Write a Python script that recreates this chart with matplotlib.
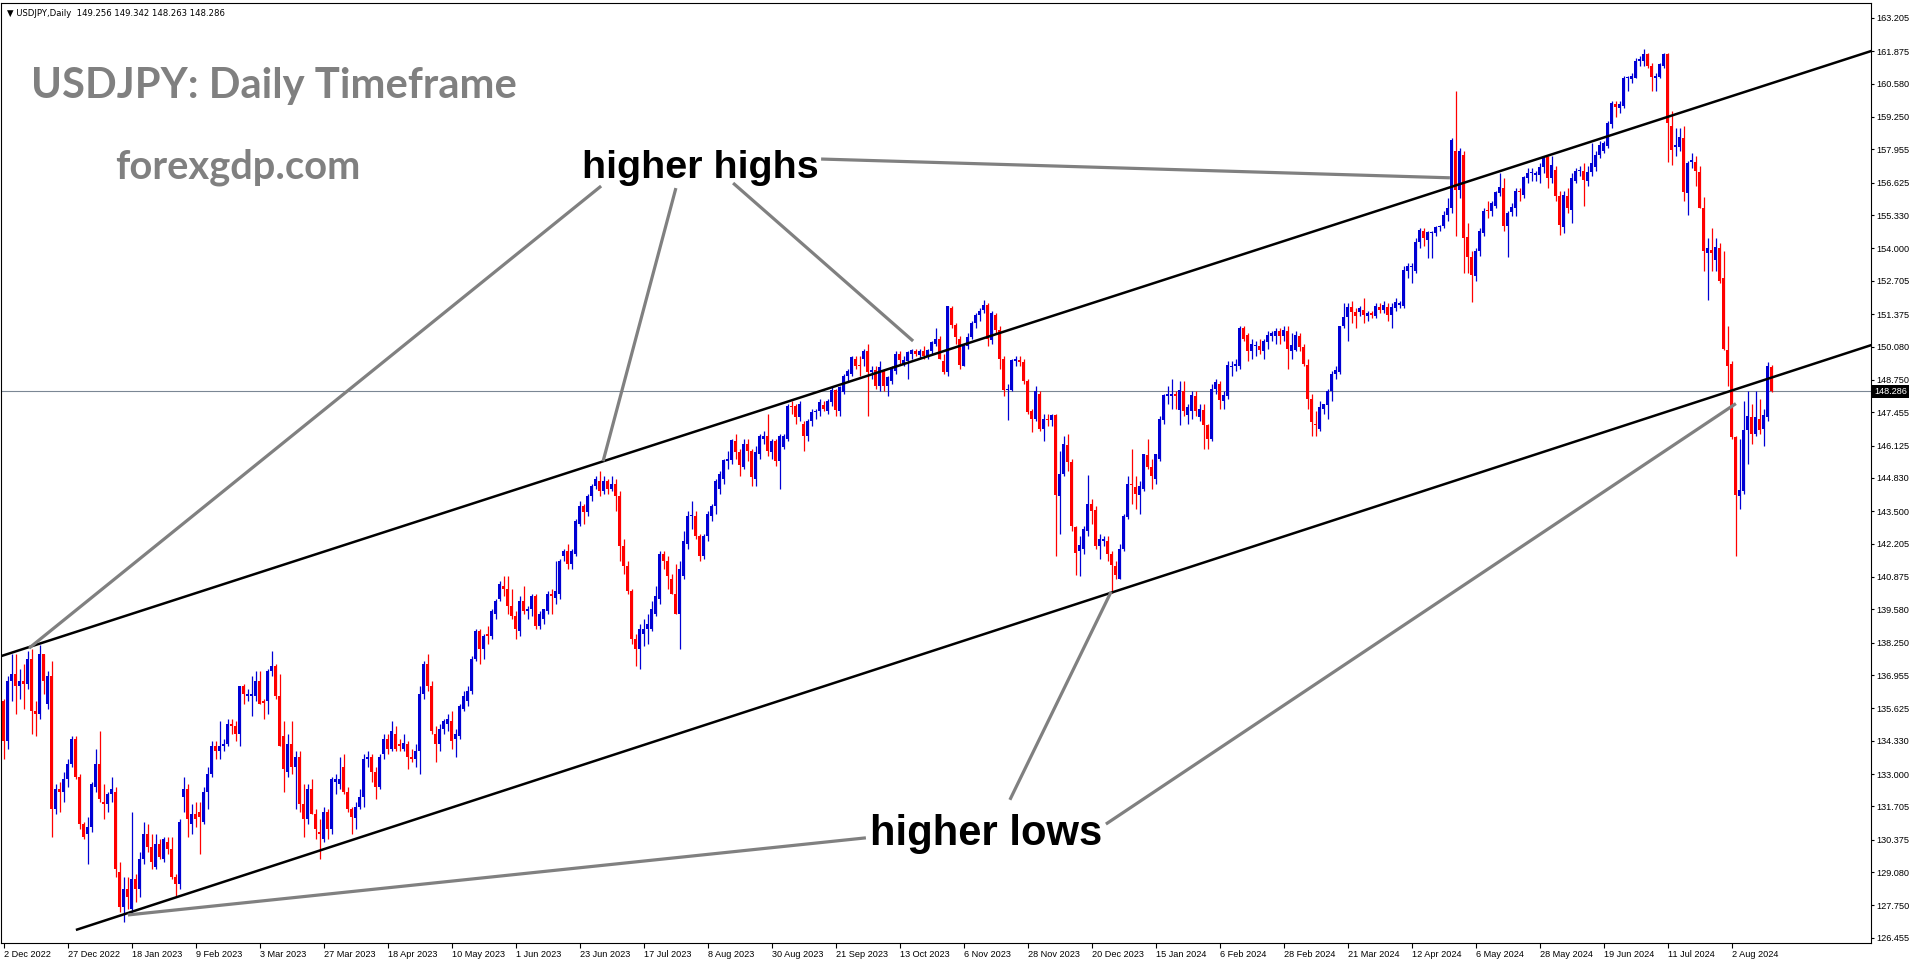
import matplotlib
matplotlib.use("Agg")
import matplotlib.pyplot as plt
import matplotlib.transforms as mtransforms
import numpy as np

plt.rcParams['font.family'] = ['Liberation Sans', 'DejaVu Sans']

W, H, DPI = 1916, 964, 100

# USDJPY daily bars, 2 Dec 2022 .. 16 Aug 2024 (one row per month)
opens = [
    135.9, 134.3, 136.7, 137.0, 136.5, 136.7, 136.6, 137.6, 135.5, 135.4, 137.8, 135.8, 136.9, 131.6, 132.4, 132.3, 132.8, 133.4, 134.4, 132.9,
    131.0, 130.6, 130.9, 132.5, 133.4, 131.9, 131.8, 132.2, 132.3, 129.1, 127.7, 128.4, 127.6, 128.8, 128.4, 129.6, 130.6, 130.1, 129.3, 130.2, 129.6, 130.3,
    130.0, 128.9, 128.6, 132.1, 132.4, 131.0, 131.4, 131.5, 131.1, 132.3, 133.0, 134.1, 133.9, 134.1, 134.2, 135.0, 134.9, 134.6, 136.5, 136.1,
    136.1, 136.1, 136.7, 135.9, 135.9, 137.1, 137.3, 136.1, 134.5, 133.1, 134.2, 133.3, 133.7, 131.8, 131.2, 132.4, 131.4, 130.7, 130.4, 131.5, 130.8, 132.7, 132.6,
    133.3, 132.3, 131.6, 131.25, 131.7, 132.1, 133.6, 133.7, 133.1, 132.5, 133.8, 134.4, 134.0, 134.6, 134.2, 134.0, 134.2, 133.7, 133.6, 133.9,
    136.2, 137.4, 136.5, 134.6, 134.2, 134.8, 135.0, 135.1, 134.4, 134.5, 135.6, 135.9, 136.3, 137.6, 138.7, 138.0, 138.6, 138.5, 139.4, 140.0, 140.5, 140.4, 139.7,
    139.3, 138.7, 139.9, 139.5, 139.6, 140.1, 138.9, 139.2, 139.5, 140.2, 140.05, 140.2, 141.7, 141.9, 141.4, 141.8, 143.0, 143.7, 143.45, 144.1, 144.5, 144.7,
    144.3, 144.7, 144.4, 144.6, 144.1, 142.1, 141.3, 140.3, 138.4, 138.0, 138.6, 138.8, 138.8, 139.4, 140.0, 141.8, 141.5, 140.8, 140.2, 139.4, 140.9,
    142.2, 143.3, 143.3, 142.5, 141.7, 142.5, 143.3, 143.7, 144.4, 144.8, 145.5, 145.55, 146.3, 145.85, 145.25, 146.2, 145.9, 144.8, 145.8, 146.4, 146.5, 145.85, 146.3,
    145.5, 146.05, 146.4, 147.7, 147.7, 147.25, 147.0, 146.5, 147.1, 147.45, 147.5, 147.75, 147.5, 147.85, 148.35, 147.5, 148.25, 148.9, 149.0, 149.6, 149.35,
    149.6, 149.9, 149.05, 149.15, 148.5, 149.15, 148.5, 148.7, 149.1, 149.8, 149.35, 149.5, 149.8, 149.9, 149.75, 149.9, 149.7, 149.9, 150.2, 150.4, 149.5, 149.05,
    151.6, 150.95, 150.4, 149.3, 150.1, 150.45, 151.0, 151.35, 151.55, 151.75, 150.35, 151.35, 150.75, 149.6, 148.35, 148.35, 149.5, 149.55, 149.45, 148.7, 147.5, 147.2,
    148.2, 146.8, 147.2, 147.15, 147.35, 144.1, 145.0, 146.15, 145.45, 142.85, 141.9, 142.0, 142.7, 143.8, 143.55, 142.1, 142.3, 142.3, 141.8, 141.3,
    140.8, 142.0, 143.25, 144.6, 144.45, 144.15, 144.4, 145.75, 145.25, 144.8, 145.6, 147.15, 148.1, 148.1, 148.2, 147.55, 148.3, 147.35, 147.5, 148.1, 147.25, 147.55,
    146.95, 146.4, 148.4, 148.6, 147.9, 148.1, 149.25, 149.3, 149.3, 150.8, 150.55, 149.9, 150.1, 150.1, 149.9, 150.25, 150.5, 150.5, 150.7, 150.5, 150.7,
    149.9, 149.95, 150.5, 150.05, 149.35, 148.0, 147.0, 146.8, 147.6, 147.75, 148.3, 149.0, 149.05, 150.9, 151.25, 151.65, 151.45, 151.45, 151.55, 151.3, 151.4,
    151.3, 151.65, 151.55, 151.65, 151.35, 151.6, 151.75, 151.7, 153.1, 153.25, 153.1, 154.25, 154.7, 154.35, 154.6, 154.6, 154.85, 154.9, 155.35, 155.6, 157.9, 156.35,
    157.75, 154.45, 153.65, 152.9, 153.9, 154.6, 155.55, 155.5, 155.7, 156.2, 156.4, 154.9, 155.45, 155.6, 156.3, 156.15, 156.8, 157.0, 156.95, 156.95, 157.25, 157.65, 156.8,
    157.15, 156.1, 154.85, 156.1, 155.55, 156.7, 157.1, 157.1, 156.7, 157.05, 157.25, 157.75, 157.9, 158.1, 158.95, 159.75, 159.6, 159.7, 160.8, 160.75,
    160.8, 161.5, 161.5, 161.75, 161.3, 160.8, 160.85, 161.3, 161.75, 158.9, 158.05, 158.05, 158.4, 156.2, 157.45, 157.45, 157.05, 155.6, 153.8, 153.95, 153.55, 154.0, 152.8,
    149.95, 149.4, 146.45, 144.1, 144.3, 146.75, 147.25, 146.6, 147.2, 146.8, 147.25, 149.256,
]
highs = [
    136.0, 136.9, 137.8, 137.8, 137.2, 137.4, 137.9, 138.0, 135.9, 138.15, 137.8, 137.1, 137.5, 132.6, 132.7, 133.1, 133.6, 134.5, 134.5, 133.0,
    131.1, 131.3, 132.7, 134.0, 134.7, 132.6, 132.3, 132.9, 132.5, 129.5, 128.9, 128.9, 131.5, 129.0, 129.9, 131.1, 131.0, 130.6, 130.6, 130.4, 130.5, 130.5,
    130.5, 129.0, 131.2, 132.9, 132.6, 131.8, 131.9, 131.9, 132.5, 133.3, 134.3, 134.3, 135.1, 134.4, 135.2, 135.2, 135.1, 136.5, 136.6, 136.4,
    136.9, 137.1, 137.1, 136.0, 137.2, 137.9, 137.4, 137.0, 135.1, 134.6, 135.1, 133.9, 133.9, 132.6, 132.6, 132.8, 131.6, 131.2, 131.7, 131.6, 132.9, 133.0, 133.7,
    133.8, 132.5, 131.7, 131.9, 132.4, 133.8, 133.9, 133.8, 133.3, 133.8, 134.6, 134.6, 135.1, 134.9, 134.4, 134.6, 134.3, 134.0, 134.2, 136.5,
    137.5, 137.8, 136.7, 134.9, 135.0, 135.2, 135.4, 135.5, 134.8, 135.8, 136.3, 136.5, 137.7, 138.8, 138.8, 138.6, 138.9, 139.6, 140.0, 140.7, 140.9, 140.9, 140.4,
    139.5, 140.1, 140.5, 139.7, 140.2, 140.2, 139.5, 139.6, 140.3, 140.4, 141.5, 141.6, 142.0, 142.2, 142.0, 143.2, 143.9, 143.8, 144.2, 144.6, 144.9, 145.1,
    144.9, 144.8, 144.9, 144.8, 144.3, 142.4, 141.5, 140.4, 138.6, 139.0, 139.2, 139.4, 139.9, 140.5, 141.9, 141.9, 141.7, 141.0, 141.4, 141.5, 142.7,
    143.5, 143.9, 143.5, 142.6, 142.6, 143.5, 143.8, 144.8, 145.1, 145.6, 145.9, 146.4, 146.6, 146.0, 146.4, 146.4, 146.0, 146.1, 146.6, 146.7, 147.4, 146.4, 146.4,
    146.6, 146.6, 147.8, 147.9, 147.8, 147.9, 147.1, 147.2, 147.6, 147.6, 148.0, 147.9, 148.0, 148.5, 148.4, 148.5, 149.0, 149.2, 149.7, 149.7, 149.7,
    150.0, 150.2, 149.3, 149.3, 149.5, 149.2, 148.9, 149.3, 149.9, 149.9, 149.7, 149.9, 150.0, 150.0, 150.0, 150.1, 150.0, 150.3, 150.8, 150.5, 149.8, 151.7,
    151.7, 151.0, 150.5, 150.2, 150.6, 151.1, 151.4, 151.6, 151.95, 151.8, 151.5, 151.4, 150.9, 149.7, 148.6, 149.6, 149.7, 149.7, 149.6, 148.8, 147.6, 148.5,
    148.3, 147.4, 147.4, 147.4, 147.4, 145.9, 146.5, 146.6, 145.6, 142.9, 142.5, 142.9, 144.95, 144.0, 143.7, 142.6, 142.5, 142.5, 141.9, 141.5,
    142.2, 143.4, 144.9, 146.0, 144.9, 144.7, 145.8, 146.4, 145.6, 145.8, 147.3, 148.2, 148.5, 148.8, 148.3, 148.7, 148.7, 147.8, 148.3, 148.3, 147.8, 147.8,
    147.0, 148.6, 148.8, 148.7, 148.3, 149.5, 149.5, 149.6, 150.9, 150.9, 150.6, 150.4, 150.3, 150.4, 150.4, 150.7, 150.7, 150.8, 150.8, 150.9, 150.9,
    150.6, 150.7, 150.6, 150.2, 149.6, 148.2, 147.5, 147.9, 147.8, 148.4, 149.1, 149.3, 150.9, 151.8, 151.8, 151.9, 151.6, 151.7, 152.0, 151.5, 151.5,
    151.8, 151.8, 151.9, 151.8, 151.8, 152.0, 151.9, 153.3, 153.4, 153.4, 154.4, 154.8, 154.8, 154.7, 154.7, 154.9, 154.95, 155.5, 156.0, 158.4, 160.3, 158.0,
    157.9, 155.0, 153.9, 154.0, 154.8, 155.6, 155.9, 155.9, 156.3, 157.0, 156.8, 155.5, 155.8, 156.4, 156.4, 156.9, 157.2, 157.2, 157.1, 157.4, 157.7, 157.7, 157.7,
    157.3, 156.3, 156.3, 156.4, 157.0, 157.2, 157.3, 157.4, 157.3, 158.2, 157.9, 158.3, 158.3, 159.1, 159.9, 159.9, 159.9, 160.9, 160.9, 161.0,
    161.6, 161.7, 161.95, 161.8, 161.4, 161.0, 161.4, 161.8, 161.8, 159.5, 158.8, 158.8, 158.9, 157.5, 157.8, 157.7, 157.3, 156.05, 154.4, 154.8, 154.4, 154.2, 153.9,
    150.9, 149.5, 146.5, 146.4, 147.9, 148.3, 147.8, 148.3, 148.0, 147.6, 149.45, 149.342,
]
lows = [
    133.6, 134.0, 135.9, 135.4, 136.0, 135.6, 136.4, 134.6, 134.5, 135.2, 136.2, 135.6, 130.5, 131.4, 131.5, 131.9, 132.5, 133.3, 132.8, 130.8,
    130.4, 129.4, 130.7, 132.3, 131.9, 131.2, 131.5, 131.9, 128.9, 127.5, 127.1, 127.6, 127.4, 127.9, 128.1, 129.4, 129.9, 129.2, 129.2, 129.6, 129.5, 129.8,
    128.8, 128.1, 128.4, 131.5, 130.5, 130.6, 130.9, 129.8, 131.0, 131.6, 132.9, 133.6, 133.6, 133.9, 134.1, 134.6, 134.3, 134.1, 135.8, 135.9,
    135.3, 135.9, 135.8, 135.2, 135.4, 136.9, 136.0, 134.1, 132.3, 132.9, 133.0, 131.6, 131.5, 130.5, 131.0, 131.4, 130.4, 129.6, 130.3, 130.4, 130.6, 132.2, 132.4,
    132.2, 131.5, 130.6, 130.8, 131.6, 131.7, 133.3, 132.7, 132.0, 132.4, 133.6, 133.8, 133.9, 133.9, 133.9, 133.9, 133.2, 133.5, 133.3, 133.0,
    136.0, 136.3, 134.6, 133.5, 133.9, 134.6, 134.7, 134.0, 133.7, 134.4, 135.5, 135.7, 136.2, 137.5, 137.4, 137.6, 138.2, 138.4, 139.2, 139.9, 140.1, 139.4, 139.2,
    138.4, 138.5, 139.4, 139.2, 139.3, 138.8, 138.8, 139.0, 139.4, 139.4, 139.8, 140.0, 141.5, 141.2, 141.2, 141.7, 142.9, 143.0, 143.3, 143.9, 144.4, 144.1,
    144.2, 144.2, 144.3, 143.5, 141.5, 141.0, 140.2, 138.2, 137.3, 137.2, 138.1, 138.2, 138.7, 139.3, 139.8, 141.2, 140.4, 140.2, 139.4, 138.0, 140.8,
    142.0, 142.8, 142.4, 141.5, 141.6, 142.3, 143.1, 143.4, 144.2, 144.6, 145.2, 145.4, 145.6, 144.9, 145.2, 145.5, 144.5, 144.5, 145.6, 146.2, 145.7, 145.6, 145.3,
    144.4, 146.0, 146.3, 147.4, 147.0, 147.1, 145.9, 146.3, 146.9, 147.2, 147.3, 147.5, 147.4, 147.7, 147.3, 147.3, 148.2, 148.7, 148.9, 149.2, 148.9,
    149.3, 147.3, 148.8, 148.4, 148.3, 148.3, 148.1, 148.6, 149.0, 149.4, 149.3, 148.8, 149.6, 149.7, 149.6, 149.6, 149.6, 149.8, 150.1, 149.6, 149.0, 148.9,
    150.8, 150.2, 149.2, 149.3, 150.0, 150.4, 150.8, 151.1, 151.4, 150.1, 150.2, 150.6, 149.2, 148.1, 147.15, 148.3, 149.3, 149.3, 148.6, 147.4, 146.65, 147.1,
    146.7, 146.3, 146.9, 146.9, 141.7, 142.6, 144.9, 145.1, 142.7, 140.95, 140.9, 141.8, 142.5, 143.0, 142.0, 141.6, 142.1, 141.5, 140.25, 140.8,
    140.8, 141.9, 143.2, 143.8, 143.6, 143.4, 144.3, 145.2, 144.4, 144.6, 145.5, 147.0, 147.8, 147.6, 147.6, 146.95, 147.3, 147.0, 147.2, 147.3, 147.1, 146.0,
    146.0, 146.3, 148.2, 147.6, 147.6, 148.0, 148.9, 149.1, 149.2, 150.3, 149.5, 149.6, 149.7, 149.8, 149.6, 150.0, 150.3, 150.2, 150.2, 150.3, 149.2,
    149.6, 149.9, 149.9, 149.3, 147.6, 146.5, 146.5, 146.7, 147.4, 147.2, 147.9, 148.8, 149.0, 150.8, 150.3, 151.0, 150.8, 151.3, 151.0, 151.1, 151.2,
    151.2, 151.4, 151.4, 151.1, 150.8, 151.5, 151.6, 151.6, 152.8, 152.6, 153.0, 154.0, 154.1, 153.6, 153.6, 154.5, 154.7, 154.8, 155.1, 155.4, 154.5, 156.0,
    153.0, 153.0, 151.85, 152.7, 153.7, 154.5, 155.2, 155.3, 155.6, 156.1, 154.7, 153.65, 155.3, 155.3, 155.9, 156.0, 156.6, 156.7, 156.7, 156.6, 157.0, 156.4, 156.6,
    155.9, 154.55, 154.6, 155.4, 155.0, 156.6, 156.9, 155.7, 156.5, 156.9, 157.1, 157.6, 157.8, 158.0, 158.8, 159.25, 159.4, 159.6, 160.3, 160.6,
    160.8, 161.3, 161.3, 161.2, 160.3, 160.3, 160.8, 161.2, 157.45, 157.35, 157.7, 157.9, 155.9, 155.35, 157.2, 156.5, 155.6, 153.1, 151.95, 153.1, 153.1, 152.6, 149.95,
    148.5, 146.4, 141.7, 143.6, 144.2, 145.4, 146.2, 146.5, 146.6, 146.1, 147.1, 148.263,
]
closes = [
    134.3, 136.7, 137.0, 136.5, 136.7, 136.6, 137.6, 135.5, 135.4, 137.8, 136.7, 136.9, 131.6, 132.4, 132.3, 132.8, 133.4, 134.4, 132.9, 131.0,
    130.5, 130.9, 132.6, 133.4, 132.0, 131.8, 132.2, 132.4, 129.2, 127.7, 128.4, 128.1, 128.8, 128.4, 129.6, 130.6, 130.1, 129.5, 130.2, 129.7, 130.4, 130.0,
    128.9, 128.6, 131.1, 132.4, 131.2, 131.4, 131.2, 131.3, 132.3, 133.0, 134.1, 133.9, 134.1, 134.2, 135.0, 134.9, 134.6, 136.5, 136.2, 136.2,
    136.2, 136.7, 135.8, 135.85, 137.1, 137.3, 136.1, 134.1, 133.2, 134.2, 133.3, 133.7, 131.8, 131.2, 132.4, 131.4, 130.8, 130.6, 131.5, 130.8, 132.8, 132.8, 132.8,
    132.3, 131.6, 131.3, 131.7, 132.1, 133.6, 133.7, 133.1, 132.5, 133.7, 134.4, 134.0, 134.7, 134.0, 134.1, 134.25, 133.7, 133.6, 133.9, 136.2,
    137.4, 136.5, 134.7, 134.2, 134.8, 135.1, 135.2, 134.3, 134.6, 135.7, 136.1, 136.3, 137.6, 138.7, 138.0, 138.5, 138.5, 139.5, 139.9, 140.6, 140.4, 139.7, 139.3,
    138.8, 139.9, 139.5, 139.6, 140.1, 138.9, 139.4, 139.6, 140.2, 140.1, 140.3, 141.5, 141.9, 141.4, 141.9, 143.1, 143.7, 143.45, 144.1, 144.5, 144.8, 144.3,
    144.7, 144.4, 144.6, 144.1, 142.1, 141.3, 140.3, 138.4, 138.0, 138.8, 138.8, 139.0, 139.6, 140.1, 141.8, 141.5, 140.9, 140.2, 139.4, 141.2, 142.3,
    143.3, 143.3, 142.5, 141.7, 142.5, 143.4, 143.7, 144.7, 145.0, 145.55, 145.6, 146.35, 145.85, 145.35, 146.2, 145.9, 144.85, 145.85, 146.5, 146.5, 145.9, 146.3, 145.5,
    146.5, 146.5, 147.7, 147.65, 147.25, 147.8, 146.5, 147.1, 147.45, 147.5, 147.85, 147.6, 147.9, 148.35, 147.55, 148.45, 148.9, 149.1, 149.65, 149.3, 149.3,
    149.9, 149.05, 149.15, 148.5, 149.25, 148.5, 148.85, 149.25, 149.8, 149.55, 149.55, 149.85, 149.95, 149.8, 149.9, 149.7, 149.95, 150.25, 150.4, 149.6, 149.05, 151.7,
    150.95, 150.45, 149.35, 150.1, 150.45, 151.0, 151.35, 151.5, 151.75, 150.4, 151.4, 150.75, 149.6, 148.35, 148.4, 149.55, 149.6, 149.45, 148.7, 147.45, 147.2, 148.3,
    146.8, 147.2, 147.15, 147.35, 144.15, 145.0, 146.2, 145.45, 142.9, 141.85, 142.15, 142.8, 143.8, 143.5, 142.1, 142.4, 142.4, 141.8, 141.35, 140.95,
    142.0, 143.3, 144.6, 144.55, 144.2, 144.5, 145.8, 145.25, 144.9, 145.8, 147.2, 148.15, 148.2, 148.2, 148.1, 148.35, 147.5, 147.65, 148.15, 147.5, 147.6, 146.95,
    146.4, 148.4, 148.65, 147.95, 148.15, 149.35, 149.3, 149.38, 150.8, 150.4, 149.9, 150.2, 150.15, 149.95, 150.3, 150.55, 150.6, 150.7, 150.5, 150.75, 150.0,
    150.15, 150.55, 150.05, 149.4, 148.0, 147.05, 146.95, 147.65, 147.78, 148.3, 149.0, 149.15, 150.9, 151.25, 151.65, 151.45, 151.3, 151.6, 151.35, 151.4, 151.35,
    151.7, 151.55, 151.75, 151.35, 151.65, 151.85, 151.8, 153.15, 153.3, 153.3, 154.25, 154.75, 154.4, 154.65, 154.65, 154.85, 154.9, 155.35, 155.6, 158.35, 156.35, 157.9,
    154.4, 153.65, 152.95, 153.9, 154.7, 155.5, 155.5, 155.8, 156.25, 156.45, 154.9, 155.4, 155.65, 156.3, 156.25, 156.85, 157.0, 157.05, 156.98, 157.25, 157.65, 156.8, 157.35,
    156.1, 154.95, 156.15, 155.6, 156.8, 157.1, 157.15, 156.75, 157.05, 157.4, 157.75, 158.15, 158.2, 159.0, 159.8, 159.65, 159.75, 160.8, 160.85, 160.9,
    161.5, 161.55, 161.75, 161.3, 160.85, 160.9, 161.35, 161.75, 159.0, 157.95, 158.15, 158.45, 156.25, 157.4, 157.55, 157.1, 155.6, 153.9, 154.0, 153.8, 154.05, 152.7, 150.0,
    149.3, 146.45, 144.15, 144.35, 146.75, 147.3, 146.6, 147.25, 146.75, 147.35, 149.3, 148.286,
]

date_labels = ["2 Dec 2022", "27 Dec 2022", "18 Jan 2023", "9 Feb 2023", "3 Mar 2023", "27 Mar 2023",
               "18 Apr 2023", "10 May 2023", "1 Jun 2023", "23 Jun 2023", "17 Jul 2023", "8 Aug 2023",
               "30 Aug 2023", "21 Sep 2023", "13 Oct 2023", "6 Nov 2023", "28 Nov 2023", "20 Dec 2023",
               "15 Jan 2024", "6 Feb 2024", "28 Feb 2024", "21 Mar 2024", "12 Apr 2024", "6 May 2024",
               "28 May 2024", "19 Jun 2024", "11 Jul 2024", "2 Aug 2024"]
label_every = 16  # bars between date labels

price_ticks = [163.205, 161.875, 160.580, 159.250, 157.955, 156.625, 155.330, 154.000, 152.705,
               151.375, 150.080, 148.750, 147.455, 146.125, 144.830, 143.500, 142.205, 140.875,
               139.580, 138.250, 136.955, 135.625, 134.330, 133.000, 131.705, 130.375, 129.080,
               127.750, 126.455]
last_price = 148.286
header = "\u25bc USDJPY,Daily  149.256 149.342 148.263 148.286"

# drawn lines, as (bar, price) end points
upper_channel = [(-1, 137.69), (467, 161.89)]
lower_channel = [(18.1, 126.77), (467, 150.14)]
hh_pointers = [[(149.4, 156.49), (6.4, 138.03)],
               [(168.1, 156.41), (149.9, 145.50)],
               [(182.4, 156.61), (227.4, 150.30)],
               [(204.4, 157.57), (361.6, 156.82)]]
hl_pointers = [[(215.6, 130.45), (31.1, 127.37)],
               [(251.6, 131.97), (276.9, 140.28)],
               [(275.6, 131.00), (433.1, 147.80)]]

BLUE = '#0000d4'
RED = '#ff0000'
GREY = '#808080'

o = np.array(opens); hi = np.array(highs); lo = np.array(lows); c = np.array(closes)
n = len(c)
assert len(o) == n and len(hi) == n and len(lo) == n, (len(o), len(hi), len(lo), n)
x = np.arange(n)

fig = plt.figure(figsize=(W / DPI, H / DPI), dpi=DPI)
# plot frame in pixels: left 1, right 1871, top 3, bottom 943
ax = fig.add_axes([1 / W, (H - 943) / H, 1870 / W, 940 / H])
ax.set_xlim((1 - 3.5) / 4, (1871 - 3.5) / 4)
ax.set_ylim(126.249, 163.804)

up = c >= o
cols = np.where(up, BLUE, RED)
ax.vlines(x, np.minimum(lo, np.minimum(o, c)), np.maximum(hi, np.maximum(o, c)),
          colors=cols, linewidth=0.9, zorder=2)
body_lo = np.minimum(o, c)
body_h = np.maximum(np.abs(c - o), 0.045)
ax.bar(x, body_h, bottom=body_lo, width=0.74, color=cols, linewidth=0, zorder=2)

# current price line
ax.axhline(last_price, color='#7b8794', linewidth=0.8, zorder=1)

# channel
for seg in (upper_channel, lower_channel):
    (x0, y0), (x1, y1) = seg
    ax.plot([x0, x1], [y0, y1], color='black', linewidth=1.8, zorder=4, solid_capstyle='butt')
for seg in hh_pointers + hl_pointers:
    (x0, y0), (x1, y1) = seg
    ax.plot([x0, x1], [y0, y1], color=GREY, linewidth=2.3, zorder=5, solid_capstyle='butt')

# axes
for s in ax.spines.values():
    s.set_linewidth(0.8)
    s.set_color('black')
ax.yaxis.tick_right()
ax.set_yticks(price_ticks)
ax.set_yticklabels(['%.3f' % p for p in price_ticks])
ax.tick_params(axis='y', right=True, left=False, labelright=True, labelleft=False,
               length=2.4, width=0.8, pad=1.5, labelsize=6.6, direction='out')
ax.set_xticks(np.arange(len(date_labels)) * label_every)
ax.set_xticklabels(date_labels, ha='left')
ax.tick_params(axis='x', length=3.5, width=0.8, pad=1.5, labelsize=6.6, direction='out')

trans = mtransforms.blended_transform_factory(ax.transAxes, ax.transData)
ax.text(1.0 + 3.5 / 1870, last_price, '%.3f' % last_price, transform=trans, ha='left', va='center',
        color='white', fontsize=6.6, clip_on=False, zorder=10,
        bbox=dict(boxstyle='square,pad=0.22', fc='black', ec='none'))


def px(xp, yp):
    return xp / W, 1 - yp / H


texts = []
t = fig.text(*px(7, 13), header, fontsize=7, va='center', ha='left', family=['DejaVu Sans'])
texts.append((t, 219))
t = fig.text(*px(31, 98), 'USDJPY: Daily Timeframe', fontsize=30, color=GREY,
             fontweight='bold', family=['Lato', 'DejaVu Sans'], va='baseline')
texts.append((t, 485))
t = fig.text(*px(115, 178), 'forexgdp.com', fontsize=30, color=GREY,
             fontweight='bold', family=['Lato', 'DejaVu Sans'], va='baseline')
texts.append((t, 245))
t = fig.text(*px(582, 178), 'higher highs', fontsize=28, color='black',
             fontweight='bold', va='baseline')
texts.append((t, 237))
t = fig.text(*px(870, 845), 'higher lows', fontsize=28, color='black',
             fontweight='bold', va='baseline')
texts.append((t, 232))

fig.canvas.draw()
r = fig.canvas.get_renderer()
for t, target in texts:
    w = t.get_window_extent(r).width
    t.set_fontsize(t.get_fontsize() * target / w)

fig.savefig('out.png', dpi=DPI)
